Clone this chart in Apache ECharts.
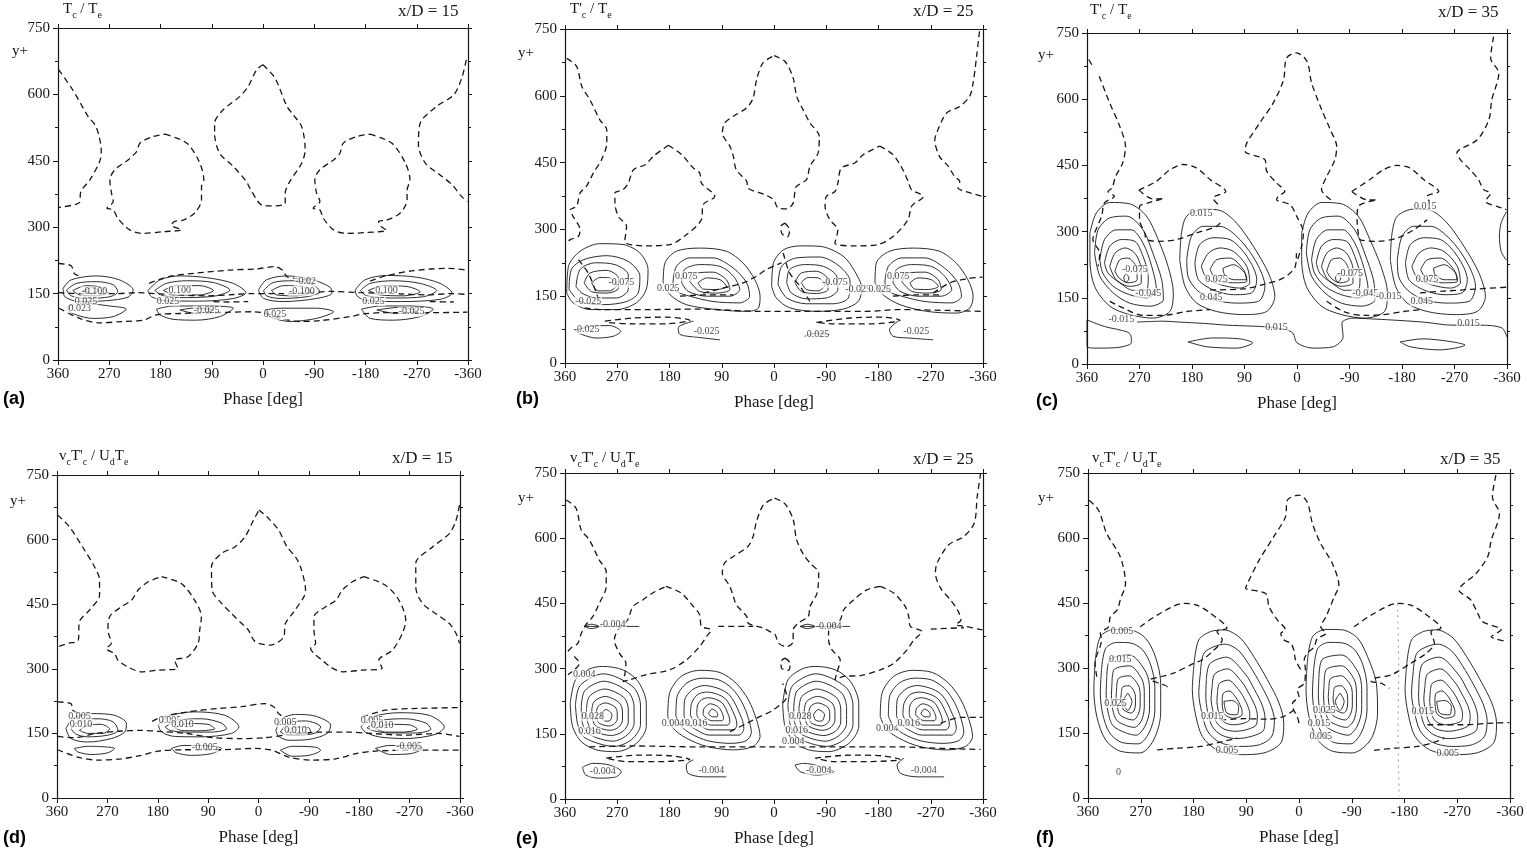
<!DOCTYPE html>
<html><head><meta charset="utf-8">
<script src="https://cdn.jsdelivr.net/npm/echarts@6/dist/echarts.min.js"></script>
<style>html,body{margin:0;padding:0;background:#fff}#c{width:1527px;height:857px}</style>
</head><body><div id="c"></div>
<script>
// ---------- tick labels ----------
const xTicks = [360,270,180,90,0,-90,-180,-270,-360];
const yTicks = [0,150,300,450,600,750];

// ---------- panel texts ----------
const panelTitles = ['{n|T}{s|c}{n| / T}{s|e}', "{n|T'}{s|c}{n| / T}{s|e}", "{n|T'}{s|c}{n| / T}{s|e}",
  "{n|v}{s|c}{n|T'}{s|c}{n| / U}{s|d}{n|T}{s|e}", "{n|v}{s|c}{n|T'}{s|c}{n| / U}{s|d}{n|T}{s|e}", "{n|v}{s|c}{n|T'}{s|c}{n| / U}{s|d}{n|T}{s|e}"];
const panelStations = ['x/D = 15','x/D = 25','x/D = 35','x/D = 15','x/D = 25','x/D = 35'];
const panelLetters = ['(a)','(b)','(c)','(d)','(e)','(f)'];

// ---------- panel (a) ----------
const aDashLoops = [
 [[0,667],[-21,637],[-42,573],[-53,554],[-68,527],[-74,475],[-68,445],[-47,403],[-39,377],[-39,354],[-15,348],[2,350],[23,388],[29,403],[52,437],[76,467],[85,512],[85,535],[70,565],[41,595],[26,618],[11,656]],
 [[172,510],[134,490],[111,445],[104,407],[108,392],[108,362],[120,332],[140,316],[155,313],[161,305],[143,294],[175,290],[211,286],[234,294],[255,320],[263,339],[274,343],[263,358],[266,377],[269,407],[260,430],[237,452],[222,471],[216,490],[193,505]],
 [[-188,510],[-226,490],[-250,445],[-258,407],[-253,384],[-253,362],[-241,332],[-217,316],[-203,313],[-206,303],[-217,293],[-182,288],[-147,286],[-124,294],[-106,320],[-100,339],[-88,343],[-100,358],[-94,377],[-91,407],[-100,430],[-124,452],[-135,467],[-141,490],[-165,505]]
];
const aDashPaths = [
 [[359,656],[334,610],[307,550],[293,527],[284,471],[287,448],[304,407],[320,380],[322,356],[359,345]],
 [[-357,678],[-349,637],[-335,599],[-305,573],[-276,535],[-273,486],[-285,445],[-311,418],[-332,396],[-349,369],[-359,358]],
 [[359,218],[337,213],[331,195],[318,188]],
 [[200,173],[182,182],[160,190],[120,196],[60,203],[10,206],[-20,211],[-35,202],[-42,188],[-60,184],[-80,180]],
 [[-188,178],[-215,190],[-265,202],[-325,207],[-359,203]],
 [[359,152],[320,150],[260,150],[220,152],[190,150],[150,147],[100,145],[50,148],[20,150],[-30,150],[-80,152],[-120,155],[-170,152],[-230,150],[-290,147],[-330,150],[-359,148]],
 [[87,132],[60,131],[26,132]],
 [[-293,132],[-335,131]],
 [[358,117],[322,94],[287,84],[246,87],[210,90],[187,102],[146,105],[82,107],[17,109],[-6,105],[-30,94],[-65,87],[-100,89],[-153,98],[-176,104],[-211,107],[-299,107],[-359,108]]
];
const aSolidLoops = [
 [[351,162],[337,181],[293,190],[252,181],[228,158],[237,142],[275,134],[322,132],[348,143]],
 [[345,158],[328,173],[293,177],[263,170],[255,154],[269,143],[310,139],[337,145]],
 [[334,157],[310,168],[284,164],[272,153],[293,145],[322,147]],
 [[316,157],[301,163],[287,157],[301,151]],
 [[202,157],[181,181],[146,190],[99,186],[52,173],[30,152],[52,139],[111,133],[170,134],[196,143]],
 [[190,157],[170,173],[134,179],[87,175],[58,158],[82,145],[134,141],[175,145]],
 [[175,157],[152,168],[111,168],[87,157],[111,147],[152,147]],
 [[8,158],[-6,181],[-42,190],[-88,181],[-118,164],[-121,151],[-94,139],[-36,132],[-1,139]],
 [[-1,157],[-18,175],[-53,179],[-88,170],[-100,154],[-77,143],[-30,139],[-6,145]],
 [[-15,157],[-36,168],[-71,166],[-83,154],[-59,145],[-24,147]],
 [[-162,158],[-179,181],[-217,191],[-270,187],[-311,173],[-332,151],[-311,137],[-241,132],[-182,134],[-165,145]],
 [[-171,157],[-188,173],[-229,179],[-276,173],[-305,157],[-282,143],[-229,140],[-182,145]],
 [[-185,157],[-212,168],[-253,166],[-276,154],[-247,145],[-206,147]],
 [[342,122],[310,127],[269,122],[240,115],[263,98],[299,94],[328,102],[342,113]],
 [[187,115],[158,122],[111,122],[52,117],[76,98],[117,90],[158,92],[181,102]],
 [[146,113],[123,117],[87,113],[117,105]],
 [[-3,113],[-30,117],[-94,117],[-124,109],[-94,94],[-47,87],[-12,98]],
 [[-173,115],[-206,122],[-258,122],[-299,115],[-276,98],[-229,90],[-188,94]],
 [[-200,113],[-241,119],[-270,111],[-235,105]]
];
const aSolidPaths = [];
const aLabels = [[296,155,'-0.100'],[311,133,'0.025'],[322,117,'0.023'],[146,158,'0.100'],[167,133,'0.025'],[-68,156,'-0.100'],[-75,178,'-0.02'],[-217,158,'0.100'],[-194,133,'0.025'],[99,111,'-0.025'],[-21,102,'0.025'],[-261,109,'-0.025']];

// ---------- panel (b) ----------
const bDashLoops = [
 [[0,690],[-19,677],[-33,640],[-39,599],[-50,569],[-62,539],[-78,509],[-76,472],[-62,442],[-56,412],[-39,397],[-36,385],[-33,359],[-22,346],[-7,348],[-1,363],[4,370],[16,378],[45,393],[47,408],[65,434],[70,464],[76,487],[89,516],[85,539],[70,554],[47,573],[36,595],[30,636],[19,674]],
 [[-19,314],[-27,299],[-23,283],[-13,292],[-12,307]],
 [[182,489],[159,468],[139,438],[128,427],[125,404],[102,374],[122,356],[125,322],[151,288],[179,266],[225,263],[257,273],[254,307],[268,329],[274,359],[274,382],[260,389],[251,404],[242,434],[222,445],[208,464]],
 [[-182,487],[-205,468],[-222,434],[-231,408],[-237,389],[-257,374],[-237,352],[-231,322],[-205,284],[-179,266],[-142,263],[-105,269],[-110,299],[-96,322],[-88,352],[-90,374],[-105,385],[-110,404],[-116,438],[-139,449],[-154,468]],
 [[291,94],[242,101],[185,103],[145,96],[185,88],[242,88],[288,91]],
 [[-73,91],[-131,101],[-188,103],[-217,96],[-171,88],[-102,88]]
];
const bDashPaths = [
 [[357,684],[340,666],[331,621],[317,591],[300,546],[288,523],[288,494],[297,457],[311,427],[323,397],[334,382],[340,352],[351,344],[346,329],[334,299],[337,284],[351,277],[359,266]],
 [[-354,745],[-349,689],[-343,629],[-337,599],[-320,576],[-297,561],[-280,516],[-277,501],[-285,464],[-300,442],[-311,419],[-320,408],[-317,393],[-331,385],[-359,374]],
 [[326,124],[300,120],[214,120],[128,121],[24,116],[-45,116],[-159,116],[-217,120],[-300,118],[-357,116]],
 [[122,157],[76,172],[53,180],[30,195],[13,210],[-13,225]],
 [[-274,157],[-303,180],[-332,189],[-359,193]],
 [[162,150],[116,153],[70,153]],
 [[-205,150],[-245,153],[-291,153]],
 [[337,232],[320,202],[306,157],[300,135]],
 [[-16,247],[-27,202],[-45,172],[-62,138]]
];
const bSolidLoops = [
 [[357,157],[354,217],[334,251],[300,268],[260,266],[231,247],[217,210],[220,165],[237,135],[271,120],[317,120],[346,135]],
 [[353,165],[349,210],[328,232],[288,241],[251,228],[231,195],[234,157],[254,138],[294,131],[334,138]],
 [[341,172],[334,210],[308,225],[274,221],[251,198],[251,165],[271,146],[306,146],[331,157]],
 [[327,180],[317,202],[288,208],[268,191],[268,168],[288,157],[314,160]],
 [[314,180],[300,192],[283,191],[271,176],[283,162],[303,162]],
 [[191,180],[188,224],[168,251],[128,258],[82,251],[53,224],[33,187],[24,150],[27,123],[47,116],[99,120],[151,131],[179,153]],
 [[174,180],[168,217],[145,236],[105,236],[70,213],[47,180],[42,150],[59,135],[105,138],[145,150],[168,161]],
 [[159,180],[154,210],[128,221],[93,217],[70,195],[59,165],[76,150],[116,150],[148,161]],
 [[145,183],[133,202],[105,204],[82,187],[76,165],[99,157],[128,161]],
 [[131,180],[116,191],[93,187],[82,172],[99,165],[122,166]],
 [[4,172],[1,224],[-16,254],[-45,263],[-79,262],[-119,240],[-139,206],[-151,168],[-145,138],[-119,121],[-73,116],[-27,124],[-4,146]],
 [[-7,176],[-13,217],[-39,236],[-79,238],[-113,217],[-131,183],[-128,146],[-102,133],[-56,133],[-22,146]],
 [[-22,180],[-27,210],[-53,221],[-85,217],[-108,195],[-110,165],[-90,146],[-56,144],[-30,157]],
 [[-36,181],[-47,202],[-73,206],[-93,187],[-93,165],[-73,156],[-47,161]],
 [[-47,181],[-59,192],[-76,191],[-88,176],[-76,162],[-56,165]],
 [[-174,180],[-176,224],[-199,251],[-240,258],[-285,251],[-314,224],[-334,187],[-343,150],[-337,123],[-314,112],[-263,116],[-217,131],[-188,153]],
 [[-191,180],[-197,217],[-220,236],[-260,236],[-294,213],[-317,180],[-323,150],[-306,135],[-260,138],[-220,150],[-197,161]],
 [[-205,180],[-211,210],[-237,221],[-271,217],[-294,195],[-306,165],[-288,150],[-248,150],[-217,161]],
 [[-220,183],[-231,202],[-260,204],[-283,187],[-288,165],[-265,157],[-237,161]],
 [[-234,180],[-248,191],[-271,187],[-283,172],[-265,165],[-242,166]],
 [[343,73],[317,82],[283,84],[264,71],[277,60],[306,56],[331,64]]
];
const bSolidPaths = [
 [[139,94],[165,79],[162,64],[133,58],[93,52]],
 [[-53,60],[-73,67],[-96,64]],
 [[-214,94],[-199,75],[-205,60],[-234,56],[-274,52]]
];
const bLabels = [[320,138,'-0.025'],[263,180,'-0.075'],[182,168,'0.025'],[151,195,'0.075'],[-105,180,'-0.075'],[-145,165,'-0.025'],[-182,165,'0.025'],[-214,195,'0.075'],[323,76,'-0.025'],[116,71,'-0.025'],[-76,64,'0.025'],[-245,71,'-0.025']];

// ---------- panel (c) ----------
const cDashLoops = [];
const cDashPaths = [
 [[357,690],[350,674]],
 [[339,652],[321,591],[304,539],[294,493],[299,455],[311,425],[317,399],[324,391],[313,380],[330,365],[335,335],[347,297],[350,282],[338,251],[341,221]],
 [[-58,372],[-42,395],[-51,425],[-65,463],[-68,493],[-57,531],[-42,577],[-25,637],[-17,686],[1,705],[18,693],[23,644],[41,591],[64,546],[86,501],[89,482],[55,463],[52,437],[35,410],[21,391],[32,380],[35,372],[12,361],[1,336],[-11,297],[-8,267],[1,229]],
 [[271,394],[241,414],[218,440],[195,452],[172,444],[149,418],[122,391],[144,376],[135,361]],
 [[271,394],[247,374],[228,375],[255,365],[270,357],[270,327],[261,297],[258,282],[235,278],[207,282],[172,297],[138,312],[127,327]],
 [[-94,391],[-125,418],[-148,440],[-171,450],[-194,444],[-217,418],[-243,391],[-223,380],[-228,365]],
 [[-94,391],[-120,372],[-137,372],[-105,357],[-103,327],[-105,297],[-108,282],[-137,278],[-171,285],[-200,304],[-223,327]],
 [[-337,742],[-332,693],[-346,659],[-334,599],[-329,554],[-309,508],[-274,478],[-280,463],[-297,440],[-311,418],[-320,395],[-332,387],[-323,369],[-343,357],[-359,350]],
 [[149,168],[92,170],[58,180],[23,195],[3,221],[1,251]],
 [[-211,161],[-251,165],[-309,170],[-359,174]],
 [[321,142],[298,127],[264,110],[230,110],[189,119],[149,123]],
 [[-51,142],[-80,119],[-114,110],[-148,112],[-183,119],[-211,123]]
];
const cSolidLoops = [
 [[355,297],[344,342],[321,366],[287,363],[258,335],[238,282],[221,221],[212,161],[218,119],[247,104],[287,112],[321,131],[347,176],[355,236]],
 [[347,251],[341,304],[321,331],[292,335],[264,304],[247,251],[232,191],[229,146],[252,131],[287,138],[315,161],[338,199]],
 [[338,236],[330,282],[310,304],[284,304],[264,274],[249,221],[241,168],[258,150],[287,157],[315,176],[333,206]],
 [[330,229],[321,267],[301,282],[278,278],[264,244],[255,199],[258,168],[281,167],[304,184],[324,206]],
 [[321,221],[312,251],[295,263],[278,251],[267,214],[267,184],[287,176],[310,191]],
 [[312,210],[304,236],[290,240],[276,221],[274,191],[290,184],[305,195]],
 [[293,205],[288,195],[293,185],[297,195]],
 [[201,236],[198,297],[189,335],[161,351],[132,348],[104,320],[75,267],[49,206],[38,153],[52,119],[92,112],[138,119],[172,138],[192,176]],
 [[189,236],[181,289],[161,312],[132,312],[98,282],[69,229],[55,176],[66,142],[104,138],[144,146],[172,168],[187,199]],
 [[175,229],[167,270],[144,286],[115,282],[86,244],[69,191],[78,161],[109,157],[144,168],[169,191]],
 [[164,221],[152,251],[132,263],[109,255],[86,221],[81,184],[98,172],[132,180],[155,195]],
 [[149,214],[138,236],[115,240],[92,214],[86,187],[109,184],[138,191]],
 [[127,217],[109,225],[89,206],[86,191],[109,191],[124,202]],
 [[-8,297],[-19,342],[-42,366],[-76,363],[-105,335],[-125,282],[-144,221],[-155,161],[-150,119],[-116,104],[-76,112],[-42,131],[-16,176],[-8,236]],
 [[-16,251],[-22,304],[-42,331],[-71,335],[-99,304],[-116,251],[-131,191],[-134,146],[-111,131],[-76,138],[-48,161],[-25,199]],
 [[-25,236],[-33,282],[-53,304],[-79,304],[-99,274],[-114,221],[-122,168],[-105,150],[-76,157],[-48,176],[-30,206]],
 [[-33,229],[-42,267],[-62,282],[-85,278],[-99,244],[-108,199],[-105,168],[-82,167],[-59,184],[-39,206]],
 [[-42,221],[-51,251],[-68,263],[-85,251],[-96,214],[-96,184],[-76,176],[-53,191]],
 [[-51,210],[-59,236],[-73,240],[-87,221],[-89,191],[-73,184],[-58,195]],
 [[-70,205],[-75,195],[-70,185],[-66,195]],
 [[-160,236],[-163,297],[-172,335],[-200,351],[-229,348],[-257,320],[-286,267],[-312,206],[-323,153],[-309,119],[-269,112],[-223,119],[-189,138],[-169,176]],
 [[-172,236],[-180,289],[-200,312],[-229,312],[-263,282],[-292,229],[-306,176],[-295,142],[-257,138],[-217,146],[-189,168],[-174,199]],
 [[-186,229],[-194,270],[-217,286],[-246,282],[-275,244],[-292,191],[-283,161],[-252,157],[-217,168],[-192,191]],
 [[-197,221],[-209,251],[-229,263],[-252,255],[-275,221],[-280,184],[-263,172],[-229,180],[-206,195]],
 [[-212,214],[-223,236],[-246,240],[-269,214],[-275,187],[-252,184],[-223,191]],
 [[-234,217],[-252,225],[-272,206],[-275,191],[-252,191],[-237,202]],
 [[360,100],[330,85],[290,72],[284,60],[284,48],[310,37],[344,36],[360,40]],
 [[187,50],[144,59],[98,57],[76,48],[103,36],[154,39]],
 [[-177,50],[-216,57],[-267,50],[-288,43],[-245,32],[-194,39]]
];
const cSolidPaths = [
 [[274,95],[230,97],[201,95],[160,92],[120,88],[80,86],[52,84],[20,78],[7,70],[0,48],[-27,36],[-62,39],[-79,61],[-77,93],[-96,104],[-130,102],[-159,100],[-216,95],[-267,88],[-314,88],[-351,82],[-360,61]],
 [[-359,345],[-350,320],[-347,290],[-350,255],[-359,235]]
];
const cLabels = [[164,342,'0.015'],[278,214,'-0.075'],[255,161,'-0.045'],[301,101,'-0.015'],[138,191,'0.075'],[147,150,'0.045'],[35,82,'0.015'],[-91,206,'-0.075'],[-117,161,'-0.045'],[-157,153,'-0.015'],[-220,357,'0.015'],[-223,191,'0.075'],[-214,142,'0.045'],[-294,93,'0.015']];

// ---------- panel (d) ----------
const dDashLoops = [
 [[-1,669],[-18,649],[-36,622],[-51,583],[-66,560],[-75,537],[-84,483],[-81,467],[-63,432],[-48,405],[-45,374],[-21,355],[6,363],[18,390],[30,405],[48,428],[66,452],[83,483],[84,537],[66,568],[42,583],[24,607],[9,645]],
 [[173,514],[138,498],[114,459],[102,421],[105,390],[108,359],[126,328],[150,320],[144,301],[179,297],[209,293],[233,304],[251,320],[257,335],[272,347],[263,359],[269,390],[266,421],[245,444],[227,459],[215,483],[197,502]],
 [[-188,514],[-227,494],[-251,459],[-263,413],[-257,382],[-239,343],[-215,320],[-221,301],[-186,297],[-150,293],[-129,304],[-114,320],[-102,332],[-93,347],[-102,359],[-99,390],[-99,421],[-120,444],[-138,459],[-150,483],[-168,502]]
];
const dDashPaths = [
 [[359,657],[338,630],[311,576],[293,537],[284,506],[284,471],[302,436],[320,409],[322,366],[341,359],[359,351]],
 [[-359,680],[-353,645],[-341,614],[-311,583],[-281,545],[-281,490],[-293,452],[-317,428],[-341,405],[-353,382],[-359,359]],
 [[359,223],[335,219],[332,204],[320,195]],
 [[190,178],[173,188],[126,200],[72,208],[30,212],[-12,219],[-27,212],[-36,196],[-45,188]],
 [[-186,188],[-227,204],[-287,208],[-359,210]],
 [[359,143],[330,140],[290,150],[250,155],[210,157],[180,155],[130,150],[80,140],[30,138],[-10,140],[-60,148],[-110,153],[-160,153],[-200,150],[-260,146],[-320,150],[-359,143]],
 [[359,112],[323,95],[287,88],[245,91],[209,99],[179,109],[132,112],[72,112],[6,115],[-24,111],[-54,95],[-96,88],[-138,91],[-174,103],[-209,109],[-287,111],[-359,111]]
];
const dSolidLoops = [
 [[344,161],[332,184],[299,196],[257,192],[236,173],[239,153],[263,138],[305,130],[335,138]],
 [[335,161],[320,179],[287,184],[260,177],[251,157],[269,146],[305,142],[326,148]],
 [[320,157],[305,169],[281,171],[266,160],[278,150],[305,150]],
 [[179,169],[161,190],[114,200],[60,192],[35,165],[48,150],[102,142],[150,143],[173,153]],
 [[167,165],[144,180],[102,184],[66,174],[57,161],[84,153],[132,153],[158,157]],
 [[150,163],[126,173],[90,171],[78,161],[108,156],[138,157]],
 [[-31,157],[-42,184],[-66,194],[-102,190],[-129,169],[-123,150],[-90,136],[-54,134],[-36,143]],
 [[-39,153],[-54,174],[-84,179],[-111,165],[-102,151],[-69,146],[-48,148]],
 [[-51,155],[-66,165],[-90,163],[-93,153],[-72,150]],
 [[-183,165],[-203,188],[-251,198],[-305,192],[-332,165],[-317,148],[-263,138],[-215,142],[-191,153]],
 [[-194,163],[-218,180],[-263,184],[-299,174],[-308,160],[-281,151],[-233,151],[-206,156]],
 [[-209,161],[-233,171],[-269,170],[-284,160],[-257,153],[-227,153]],
 [[329,115],[305,120],[257,115],[269,105],[299,101],[323,107]],
 [[156,115],[135,122],[102,122],[66,115],[84,103],[120,99],[147,105]],
 [[-39,111],[-60,120],[-102,118],[-111,111],[-90,99],[-60,97]],
 [[-209,115],[-233,122],[-275,122],[-293,115],[-272,103],[-236,101]]
];
const dSolidPaths = [];
const dLabels = [[320,189,'0.005'],[317,172,'0.010'],[158,181,'0.005'],[136,171,'0.010'],[-48,176,'0.005'],[-66,156,'0.010'],[-203,180,'0.005'],[-221,169,'0.010'],[96,118,'-0.005'],[-269,120,'-0.005']];

// ---------- panel (e) ----------
const eDashLoops = [
 [[-1,692],[-19,679],[-33,643],[-39,596],[-51,562],[-62,543],[-77,520],[-74,473],[-62,443],[-59,420],[-42,405],[-33,389],[-33,362],[-22,351],[-8,358],[-2,378],[7,385],[18,393],[45,405],[47,420],[65,447],[70,466],[76,489],[89,520],[85,543],[70,558],[45,581],[36,604],[30,639],[18,677]],
 [[-19,324],[-28,312],[-25,296],[-13,301],[-12,316]],
 [[186,489],[160,474],[139,443],[128,424],[125,397],[108,389],[116,374],[128,351],[151,320],[180,297],[220,286],[249,274],[260,270],[257,286],[255,312],[266,335],[275,366],[269,389],[252,412],[243,443],[226,458],[209,474]],
 [[-183,489],[-206,474],[-226,443],[-232,420],[-235,397],[-255,385],[-241,366],[-229,343],[-206,312],[-183,297],[-149,284],[-120,282],[-105,274],[-108,289],[-114,320],[-100,343],[-94,366],[-94,389],[-114,412],[-120,435],[-137,458],[-160,481]],
 [[289,94],[232,101],[174,99],[145,91],[197,86],[255,86]],
 [[-71,94],[-131,101],[-189,99],[-218,91],[-160,86],[-103,86]]
];
const eDashPaths = [
 [[358,688],[341,669],[332,619],[318,596],[301,550],[289,523],[289,489],[301,450],[312,420],[324,401],[332,381],[338,358],[350,347],[358,335]],
 [[344,328],[335,312],[344,297],[355,286]],
 [[-356,750],[-350,696],[-345,635],[-327,604],[-301,585],[-281,543],[-278,520],[-287,485],[-304,458],[-316,435],[-322,412],[-313,401],[-330,397],[-359,389]],
 [[96,397],[36,397]],
 [[-270,391],[-327,394]],
 [[318,120],[243,122],[128,120],[13,120],[-103,120],[-218,120],[-275,117],[-356,114]],
 [[76,155],[47,174],[24,190],[1,205],[-22,236],[-15,266]],
 [[-287,174],[-322,188],[-359,188]]
];
const eSolidLoops = [
 [[351,220],[342,274],[318,299],[295,305],[260,297],[234,270],[220,220],[220,167],[237,128],[272,109],[306,113],[332,132],[347,167]],
 [[342,216],[334,261],[294,288],[243,258],[230,216],[230,171],[245,137],[275,121],[326,141],[338,171]],
 [[332,211],[326,249],[293,271],[251,246],[241,211],[241,174],[253,147],[277,133],[319,149],[330,174]],
 [[323,207],[318,236],[292,253],[259,234],[251,207],[251,177],[260,156],[280,146],[313,158],[321,177]],
 [[314,202],[310,224],[291,236],[267,222],[261,202],[261,181],[268,165],[282,158],[306,167],[312,181]],
 [[306,198],[303,213],[291,221],[274,212],[270,198],[270,184],[275,173],[284,168],[301,174],[305,184]],
 [[298,194],[290,206],[279,194],[282,181],[287,179],[295,182]],
 [[-15,220],[-24,274],[-48,299],[-71,305],[-106,297],[-132,270],[-146,220],[-146,167],[-129,128],[-94,109],[-60,113],[-34,132],[-19,167]],
 [[-24,216],[-32,261],[-72,288],[-123,258],[-136,216],[-136,171],[-121,137],[-91,121],[-40,141],[-28,171]],
 [[-34,211],[-40,249],[-73,271],[-115,246],[-125,211],[-125,174],[-113,147],[-89,133],[-47,149],[-36,174]],
 [[-43,207],[-48,236],[-74,253],[-107,234],[-115,207],[-115,177],[-106,156],[-86,146],[-53,158],[-45,177]],
 [[-52,202],[-56,224],[-75,236],[-99,222],[-105,202],[-105,181],[-98,165],[-84,158],[-60,167],[-54,181]],
 [[-60,198],[-63,213],[-75,221],[-92,212],[-96,198],[-96,184],[-91,173],[-82,168],[-65,174],[-61,184]],
 [[-68,194],[-76,206],[-87,194],[-84,181],[-79,179],[-71,182]],
 [[183,190],[180,243],[160,282],[128,296],[93,291],[65,266],[44,228],[30,182],[24,144],[36,121],[70,113],[116,121],[151,140],[174,163]],
 [[169,191],[167,235],[150,267],[124,278],[95,274],[72,254],[55,222],[44,185],[39,153],[48,134],[76,128],[114,134],[143,150],[161,169]],
 [[155,192],[154,227],[140,252],[120,261],[79,242],[56,187],[52,162],[60,147],[112,147],[135,160],[150,175]],
 [[144,193],[142,220],[132,240],[116,246],[85,232],[67,190],[64,170],[70,159],[110,159],[128,169],[139,180]],
 [[133,194],[132,214],[125,228],[113,233],[90,222],[78,192],[76,178],[80,170],[109,170],[121,177],[130,185]],
 [[122,195],[121,207],[110,219],[96,212],[88,194],[87,185],[90,180],[107,180],[120,190]],
 [[113,196],[107,207],[97,196],[98,189],[106,189]],
 [[-183,190],[-186,243],[-206,282],[-238,296],[-273,291],[-301,266],[-322,228],[-336,182],[-342,144],[-330,121],[-296,113],[-250,121],[-215,140],[-192,163]],
 [[-197,191],[-199,235],[-216,267],[-242,278],[-271,274],[-294,254],[-311,222],[-322,185],[-327,153],[-318,134],[-290,128],[-252,134],[-223,150],[-205,169]],
 [[-211,192],[-212,227],[-226,252],[-246,261],[-287,242],[-310,187],[-314,162],[-306,147],[-254,147],[-231,160],[-216,175]],
 [[-222,193],[-224,220],[-234,240],[-250,246],[-281,232],[-299,190],[-302,170],[-296,159],[-256,159],[-238,169],[-227,180]],
 [[-233,194],[-234,214],[-241,228],[-253,233],[-276,222],[-288,192],[-290,178],[-286,170],[-257,170],[-245,177],[-236,185]],
 [[-244,195],[-245,207],[-256,219],[-270,212],[-278,194],[-279,185],[-276,180],[-259,180],[-246,190]],
 [[-253,196],[-259,207],[-269,196],[-268,189],[-260,189]],
 [[327,397],[315,402],[301,397],[315,392]],
 [[-45,397],[-57,402],[-71,397],[-57,392]],
 [[330,73],[312,82],[283,78],[263,63],[272,51],[301,48],[324,55]],
 [[-36,78],[-51,82],[-80,75],[-103,63],[-74,55],[-45,63]]
];
const eSolidPaths = [
 [[327,397],[232,397]],
 [[-45,397],[-131,397]],
 [[139,90],[151,78],[148,59],[122,51],[82,51]],
 [[-224,94],[-212,78],[-218,59],[-247,51],[-293,51]]
];
const eLabels = [[278,401,'-0.004'],[-94,398,'-0.004'],[327,286,'0.004'],[312,190,'0.028'],[318,155,'0.016'],[174,174,'0.004'],[134,174,'0.016'],[-45,190,'0.028'],[-39,159,'0.016'],[-33,132,'0.004'],[-195,163,'0.004'],[-232,174,'0.016'],[295,63,'-0.004'],[108,67,'-0.004'],[-77,67,'-0.004'],[-258,67,'-0.004']];

// ---------- panel (f) ----------
const fDashLoops = [];
const fDashPaths = [
 [[358,687],[342,664],[328,610],[305,557],[296,495],[305,457],[310,434],[322,418],[325,395],[339,380],[337,365],[348,311],[345,280]],
 [[0,173],[3,188],[9,203],[11,219],[0,234],[3,250],[-9,265],[-11,296],[-9,319],[-14,334],[-26,349],[-31,368],[-46,380],[-37,395],[-46,418],[-60,464],[-68,491],[-57,541],[-37,587],[-23,633],[-14,683],[0,699],[20,687],[23,649],[43,603],[68,549],[88,495],[91,484],[57,472],[51,441],[37,411],[23,388],[31,380],[26,365],[14,357],[9,342],[6,319],[-3,296]],
 [[271,395],[242,422],[197,449],[174,445],[151,426],[123,392],[140,384],[131,365],[148,338],[165,319],[179,311],[214,288],[236,280],[254,273],[239,265],[225,257],[231,253]],
 [[-94,395],[-123,422],[-168,449],[-191,445],[-214,426],[-242,392],[-225,384],[-231,357],[-217,334],[-191,311],[-157,284],[-128,276],[-123,269],[-140,265],[-154,253]],
 [[-336,745],[-330,695],[-342,656],[-328,595],[-322,557],[-302,518],[-273,480],[-293,457],[-305,426],[-313,407],[-345,388],[-328,372],[-356,361]],
 [[134,180],[94,183],[54,182],[26,188],[9,203]],
 [[-219,169],[-276,169],[-333,173],[-359,174]],
 [[242,111],[208,115],[168,119],[128,131],[105,138]],
 [[-128,110],[-162,115],[-202,119],[-236,131],[-248,138]]
];
const fDotted = [[[-168,449],[-170,300],[-169,150],[-171,4]]];
const fSolidLoops = [
 [[348,311],[339,372],[316,389],[288,388],[262,369],[245,326],[236,265],[236,196],[248,134],[271,104],[305,108],[330,134],[345,188],[350,250]],
 [[337,295],[330,345],[311,359],[288,358],[267,342],[253,307],[246,257],[246,201],[256,150],[274,125],[302,128],[323,150],[335,194],[339,245]],
 [[328,280],[322,320],[289,330],[261,290],[255,250],[255,205],[263,165],[278,145],[316,165],[326,200],[329,240]],
 [[319,267],[315,297],[289,305],[268,274],[264,244],[264,209],[269,178],[281,163],[310,178],[318,205],[320,236]],
 [[311,254],[308,276],[290,282],[274,260],[271,238],[271,213],[275,191],[283,180],[305,191],[310,210],[312,232]],
 [[303,242],[301,256],[290,259],[281,245],[279,232],[279,217],[281,203],[286,196],[299,203],[302,215],[304,229]],
 [[292,242],[285,223],[292,202],[300,223]],
 [[-14,311],[-23,372],[-46,389],[-74,388],[-100,369],[-117,326],[-132,265],[-134,196],[-122,134],[-91,104],[-57,108],[-32,134],[-17,188],[-12,250]],
 [[-25,295],[-32,345],[-51,359],[-74,358],[-95,342],[-109,307],[-116,257],[-116,201],[-106,150],[-88,125],[-60,128],[-39,150],[-27,194],[-23,245]],
 [[-34,280],[-40,320],[-73,330],[-101,290],[-107,250],[-107,205],[-99,165],[-84,145],[-46,165],[-36,200],[-33,240]],
 [[-43,267],[-47,297],[-73,305],[-94,274],[-98,244],[-98,209],[-93,178],[-81,163],[-52,178],[-44,205],[-42,236]],
 [[-51,254],[-54,276],[-72,282],[-88,260],[-91,238],[-91,213],[-87,191],[-79,180],[-57,191],[-52,210],[-50,232]],
 [[-59,242],[-61,256],[-72,259],[-81,245],[-83,232],[-83,217],[-81,203],[-76,196],[-63,203],[-60,215],[-58,229]],
 [[-70,242],[-77,223],[-70,202],[-62,223]],
 [[179,311],[171,365],[151,384],[128,388],[100,369],[77,326],[54,273],[34,219],[26,173],[31,127],[60,104],[100,100],[140,111],[165,142],[177,196],[182,250]],
 [[168,292],[161,336],[126,355],[103,340],[84,305],[65,261],[49,217],[42,179],[47,141],[70,122],[103,119],[136,129],[156,154],[166,198],[171,242]],
 [[158,275],[152,310],[124,325],[91,285],[76,250],[63,215],[58,185],[61,155],[106,137],[132,145],[148,165],[156,200],[159,235]],
 [[148,259],[144,286],[122,298],[97,267],[85,240],[75,213],[71,190],[74,167],[108,154],[128,159],[141,175],[147,202],[150,228]],
 [[139,245],[136,264],[121,272],[103,250],[94,231],[87,211],[84,195],[86,178],[111,169],[125,173],[134,184],[138,203],[140,223]],
 [[131,230],[129,242],[119,247],[108,233],[99,210],[97,200],[98,190],[113,184],[127,193],[130,205],[131,217]],
 [[128,223],[114,225],[103,211],[106,192],[123,196]],
 [[-184,311],[-192,365],[-212,384],[-235,388],[-263,369],[-286,326],[-309,273],[-329,219],[-337,173],[-332,127],[-303,104],[-263,100],[-223,111],[-198,142],[-186,196],[-181,250]],
 [[-195,292],[-202,336],[-237,355],[-260,340],[-279,305],[-298,261],[-314,217],[-321,179],[-316,141],[-293,122],[-260,119],[-227,129],[-207,154],[-197,198],[-192,242]],
 [[-205,275],[-211,310],[-239,325],[-272,285],[-287,250],[-300,215],[-305,185],[-302,155],[-257,137],[-231,145],[-215,165],[-207,200],[-204,235]],
 [[-215,259],[-219,286],[-241,298],[-266,267],[-278,240],[-288,213],[-292,190],[-289,167],[-255,154],[-235,159],[-222,175],[-216,202],[-213,228]],
 [[-224,245],[-227,264],[-242,272],[-260,250],[-269,231],[-276,211],[-279,195],[-277,178],[-252,169],[-238,173],[-229,184],[-225,203],[-223,223]],
 [[-232,230],[-234,242],[-244,247],[-255,233],[-264,210],[-266,200],[-265,190],[-250,184],[-236,193],[-233,205],[-232,217]],
 [[-235,223],[-249,225],[-260,211],[-257,192],[-240,196]]
];
const fSolidPaths = [];
const fLabels = [[302,384,'0.005'],[305,319,'0.015'],[313,219,'0.025'],[148,188,'0.015'],[123,111,'0.005'],[-43,203,'0.025'],[-34,173,'0.015'],[-37,142,'0.005'],[-211,200,'0.015'],[-254,104,'0.005'],[308,58,'0']];

// ---------- layout (positions / styles) ----------
const grids = [
 {left:58, top:28, width:410, height:332},
 {left:565, top:29, width:418, height:334},
 {left:1087, top:33, width:420, height:331},
 {left:57, top:475, width:403, height:323},
 {left:565, top:473, width:418, height:326},
 {left:1088, top:473, width:422, height:325}
];
const titlePos = [[63,2],[570,2],[1090,3],[59,449],[570,451],[1092,451]];
const stationPos = [[398,3],[913,3],[1438,4],[392,450],[913,451],[1440,451]];
const yplusPos = [[12,44],[518,46],[1038,48],[10,494],[518,491],[1038,491]];
const letterPos = [[3,390],[516,390],[1036,392],[3,829],[516,830],[1036,829]];

const panels = [
 {dl:aDashLoops, dp:aDashPaths, sl:aSolidLoops, sp:aSolidPaths, lb:aLabels, dot:[]},
 {dl:bDashLoops, dp:bDashPaths, sl:bSolidLoops, sp:bSolidPaths, lb:bLabels, dot:[]},
 {dl:cDashLoops, dp:cDashPaths, sl:cSolidLoops, sp:cSolidPaths, lb:cLabels, dot:[]},
 {dl:dDashLoops, dp:dDashPaths, sl:dSolidLoops, sp:dSolidPaths, lb:dLabels, dot:[]},
 {dl:eDashLoops, dp:eDashPaths, sl:eSolidLoops, sp:eSolidPaths, lb:eLabels, dot:[]},
 {dl:fDashLoops, dp:fDashPaths, sl:fSolidLoops, sp:fSolidPaths, lb:fLabels, dot:fDotted}
];

const SERIF = 'Liberation Serif';
const INK = '#161616';
const xMin = Math.min(...xTicks), xMax = Math.max(...xTicks), xInt = xTicks[0]-xTicks[1];
const yMin = Math.min(...yTicks), yMax = Math.max(...yTicks), yInt = yTicks[1]-yTicks[0];

const xAxes = [], yAxes = [], series = [], titles = [];
const axLine = {show:true, onZero:false, lineStyle:{color:INK, width:1.2}};
grids.forEach((g, i) => {
  xAxes.push({gridIndex:i, type:'value', min:xMin, max:xMax, interval:xInt, inverse:true, position:'bottom',
    axisLine:axLine, axisTick:{show:true, length:5, lineStyle:{color:INK}}, splitLine:{show:false},
    axisLabel:{fontFamily:SERIF, fontSize:15, color:INK, margin:7},
    name:'Phase [deg]', nameLocation:'middle', nameGap:31, nameTextStyle:{fontFamily:SERIF, fontSize:17, color:INK}});
  xAxes.push({gridIndex:i, type:'value', min:xMin, max:xMax, interval:xInt, inverse:true, position:'top',
    axisLine:axLine, axisTick:{show:true, length:4, lineStyle:{color:INK}}, axisLabel:{show:false}, splitLine:{show:false}});
  yAxes.push({gridIndex:i, type:'value', min:yMin, max:yMax, interval:yInt, position:'left',
    axisLine:axLine, axisTick:{show:true, length:5, lineStyle:{color:INK}}, minorTick:{show:true, splitNumber:2, length:3, lineStyle:{color:INK}},
    splitLine:{show:false}, axisLabel:{fontFamily:SERIF, fontSize:15, color:INK, margin:8}});
  yAxes.push({gridIndex:i, type:'value', min:yMin, max:yMax, interval:yInt, position:'right',
    axisLine:axLine, axisTick:{show:true, length:4, lineStyle:{color:INK}}, minorTick:{show:true, splitNumber:2, length:3, lineStyle:{color:INK}},
    axisLabel:{show:false}, splitLine:{show:false}});

  const p = panels[i];
  const mk = (pts, kind, closed) => ({
    type:'line', xAxisIndex:2*i, yAxisIndex:2*i, data: closed ? pts.concat([pts[0]]) : pts,
    symbol:'none', showSymbol:false, smooth:0.3, silent:true, animation:false, z:3,
    lineStyle: kind==='dash' ? {color:INK, width:1.3, type:[6,4]} :
               kind==='dot' ? {color:'#999', width:1, type:[2,4]} : {color:INK, width:0.9, type:'solid'}
  });
  p.dl.forEach(c => series.push(mk(c,'dash',true)));
  p.dp.forEach(c => series.push(mk(c,'dash',false)));
  p.sl.forEach(c => series.push(mk(c,'solid',true)));
  p.sp.forEach(c => series.push(mk(c,'solid',false)));
  p.dot.forEach(c => series.push(mk(c,'dot',false)));
  series.push({type:'scatter', xAxisIndex:2*i, yAxisIndex:2*i, silent:true, animation:false, z:5,
    symbolSize:1, itemStyle:{color:'rgba(0,0,0,0)'},
    data: p.lb.map(l => ({value:[l[0], l[1]], name:l[2]})),
    label:{show:true, position:'inside', formatter:'{b}', fontFamily:SERIF, fontSize:10, color:INK,
      backgroundColor:'rgba(255,255,255,0.85)', padding:[0,1]}});

  const rich = {n:{fontFamily:SERIF, fontSize:15, color:INK, lineHeight:18, verticalAlign:'top'},
                s:{fontFamily:SERIF, fontSize:10, color:INK, lineHeight:11, verticalAlign:'bottom'}};
  titles.push({text:panelTitles[i], left:titlePos[i][0], top:titlePos[i][1], padding:0,
    textStyle:{fontFamily:SERIF, fontSize:15, fontWeight:'normal', color:INK, rich:rich}});
  titles.push({text:panelStations[i], left:stationPos[i][0], top:stationPos[i][1], padding:0,
    textStyle:{fontFamily:SERIF, fontSize:17, fontWeight:'normal', color:INK}});
  titles.push({text:'y+', left:yplusPos[i][0], top:yplusPos[i][1], padding:0,
    textStyle:{fontFamily:SERIF, fontSize:15, fontWeight:'normal', color:INK}});
  titles.push({text:panelLetters[i], left:letterPos[i][0], top:letterPos[i][1], padding:0,
    textStyle:{fontFamily:'Liberation Sans', fontSize:18, fontWeight:'bold', color:'#000'}});
});

const chart = echarts.init(document.getElementById('c'), null, {renderer:'canvas'});
chart.setOption({backgroundColor:'#fff', animation:false, title:titles, grid:grids, xAxis:xAxes, yAxis:yAxes, series:series});
</script></body></html>
